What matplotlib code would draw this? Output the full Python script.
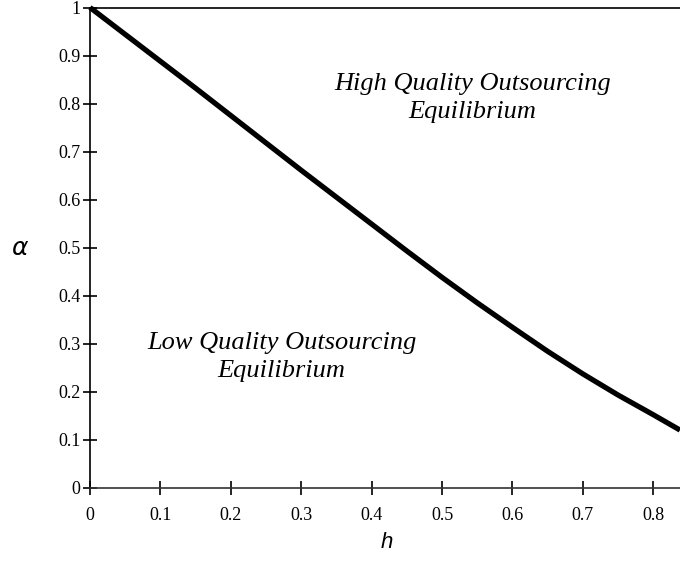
import matplotlib
matplotlib.use("Agg")
import matplotlib.pyplot as plt

# Data
h_vals = [0.0, 0.05, 0.1, 0.15, 0.2, 0.25, 0.3, 0.35, 0.4, 0.45, 0.5, 0.55, 0.6,
          0.65, 0.7, 0.75, 0.8, 0.838]
alpha_vals = [1.0, 0.944, 0.888, 0.832, 0.775, 0.718, 0.661, 0.605, 0.549, 0.493,
              0.438, 0.385, 0.334, 0.284, 0.237, 0.193, 0.152, 0.120]
x_ticks = [0, 0.1, 0.2, 0.3, 0.4, 0.5, 0.6, 0.7, 0.8]
x_ticklabels = ["0", "0.1", "0.2", "0.3", "0.4", "0.5", "0.6", "0.7", "0.8"]
y_ticks = [0, 0.1, 0.2, 0.3, 0.4, 0.5, 0.6, 0.7, 0.8, 0.9, 1.0]
y_ticklabels = ["0", "0.1", "0.2", "0.3", "0.4", "0.5", "0.6", "0.7", "0.8", "0.9", "1"]
high_label = "High Quality Outsourcing\nEquilibrium"
low_label = "Low Quality Outsourcing\nEquilibrium"

fig = plt.figure(figsize=(6.8, 5.63), dpi=100)
ax = fig.add_axes([90/680, 1 - 487.7/563, 1 - 90/680, (487.7 - 7.5)/563])

ax.plot(h_vals, alpha_vals, color="black", lw=3.8, solid_capstyle="butt",
        solid_joinstyle="round", clip_on=False)

ax.set_xlim(0, 0.838)
ax.set_ylim(0, 1)

ax.spines["right"].set_visible(False)
for s in ["left", "bottom", "top"]:
    ax.spines[s].set_linewidth(1.2)
    ax.spines[s].set_color("black")
ax.spines["bottom"].set_color("#333333")

ax.set_xticks(x_ticks)
ax.set_xticklabels(x_ticklabels, family="Liberation Serif", fontsize=13)
ax.set_yticks(y_ticks)
ax.set_yticklabels(y_ticklabels, family="Liberation Serif", fontsize=13)
ax.tick_params(axis="both", direction="inout", length=10, width=1.2, color="black")
ax.tick_params(axis="y", pad=2)
ax.tick_params(axis="x", pad=9)
ax.tick_params(top=False, right=False)

ax.text(0.5436, 0.812, high_label, ha="center", va="center", family="Liberation Serif",
        style="italic", fontsize=19, linespacing=1.35)
ax.text(0.272, 0.273, low_label, ha="center", va="center", family="Liberation Serif",
        style="italic", fontsize=19, linespacing=1.35)

fig.text(20/680, 1 - 248/563, r"$\alpha$", ha="center", va="center", fontsize=18,
         family="Liberation Sans")
fig.text(386.7/680, 1 - 543/563, "h", ha="center", va="center", fontsize=16,
         family="Liberation Sans", style="italic")

fig.savefig("out.png", dpi=100)
